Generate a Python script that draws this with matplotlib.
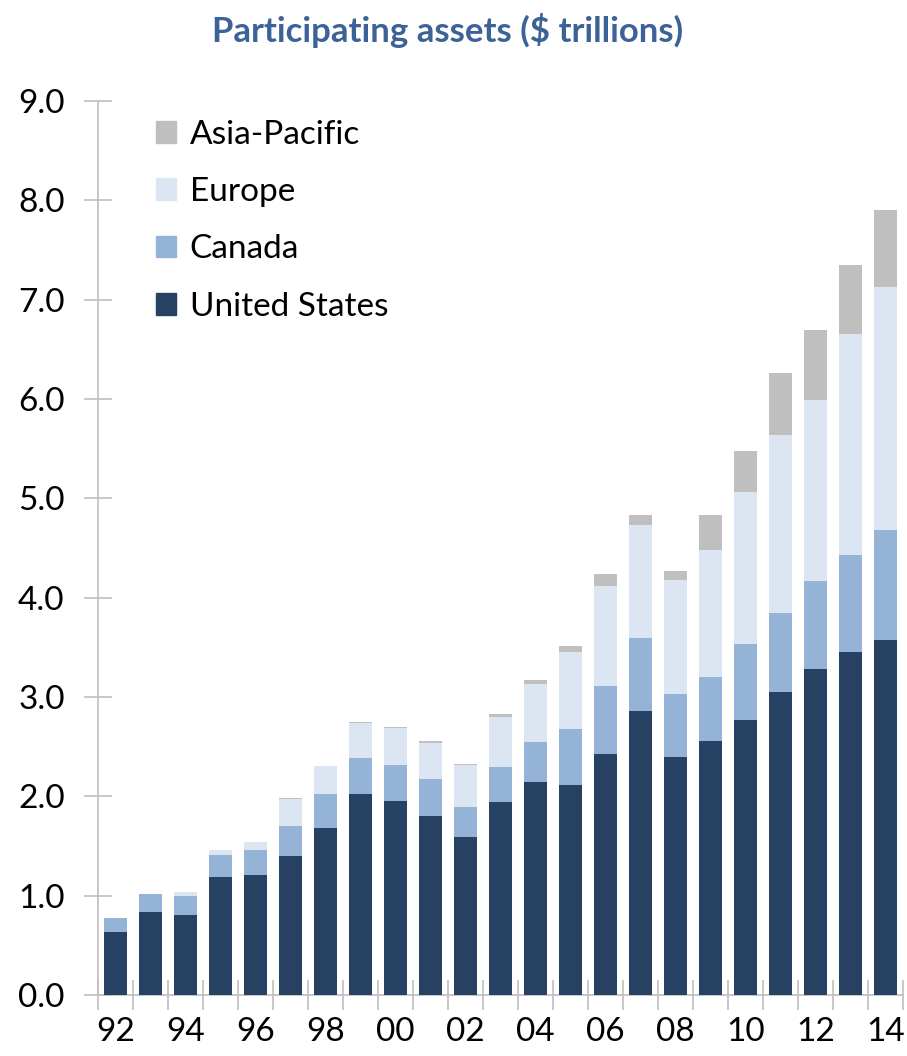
import matplotlib
matplotlib.use("Agg")
import matplotlib.pyplot as plt
import numpy as np
from matplotlib.patches import Patch

# ── data ($ trillions) ───────────────────────────────────────────────────
years = ["92", "93", "94", "95", "96", "97", "98", "99", "00", "01", "02", "03",
         "04", "05", "06", "07", "08", "09", "10", "11", "12", "13", "14"]
united_states = [0.63, 0.84, 0.81, 1.19, 1.21, 1.40, 1.68, 2.02, 1.95, 1.80, 1.59, 1.94,
                 2.14, 2.11, 2.43, 2.86, 2.40, 2.56, 2.77, 3.05, 3.28, 3.45, 3.57]
canada = [0.14, 0.18, 0.19, 0.22, 0.25, 0.30, 0.34, 0.37, 0.37, 0.37, 0.30, 0.35,
          0.41, 0.57, 0.68, 0.73, 0.63, 0.64, 0.76, 0.80, 0.89, 0.98, 1.11]
europe = [0.00, 0.00, 0.04, 0.05, 0.08, 0.27, 0.28, 0.35, 0.37, 0.37, 0.43, 0.51,
          0.58, 0.77, 1.01, 1.14, 1.15, 1.28, 1.53, 1.79, 1.82, 2.22, 2.45]
asia_pacific = [0.00, 0.00, 0.00, 0.00, 0.00, 0.01, 0.01, 0.01, 0.01, 0.02, 0.01, 0.03,
                0.04, 0.06, 0.12, 0.10, 0.09, 0.35, 0.42, 0.62, 0.70, 0.70, 0.77]
yticks = [0.0, 1.0, 2.0, 3.0, 4.0, 5.0, 6.0, 7.0, 8.0, 9.0]

# ── style ────────────────────────────────────────────────────────────────
plt.rcParams["font.family"] = ["Lato", "DejaVu Sans"]

C_US = "#264161"
C_CA = "#95B3D7"
C_EU = "#DCE6F2"
C_AP = "#BFBFBF"
AXIS = "#BFBFBF"
TITLE = "#3C6298"

fig = plt.figure(figsize=(9.07, 10.56), dpi=100)
ax = fig.add_axes([0.108, 0.0578, 0.8876, 0.8466])

x = np.arange(len(years))
us = np.array(united_states)
ca = np.array(canada)
eu = np.array(europe)
ap = np.array(asia_pacific)

w = 0.66
ax.bar(x, us, w, color=C_US, zorder=3)
ax.bar(x, ca, w, bottom=us, color=C_CA, zorder=3)
ax.bar(x, eu, w, bottom=us + ca, color=C_EU, zorder=3)
ax.bar(x, ap, w, bottom=us + ca + eu, color=C_AP, zorder=3)

ax.set_xlim(-0.5, len(years) - 0.5)
ax.set_ylim(0, 9.0)

ax.set_yticks(yticks)
ax.set_yticklabels([f"{v:.1f}" for v in yticks])

# labels every other year, tick marks at category boundaries
ax.set_xticks(x[::2])
ax.set_xticklabels(years[::2])
ax.set_xticks(np.arange(-0.5, len(years), 1.0), minor=True)
ax.tick_params(axis="x", which="major", length=0, pad=16, labelsize=24)
ax.tick_params(axis="x", which="minor", length=22, direction="inout",
               color=AXIS, width=1.2)
ax.tick_params(axis="y", which="major", length=20, direction="inout",
               color=AXIS, width=1.2, pad=14, labelsize=24)

for side in ("top", "right"):
    ax.spines[side].set_visible(False)
for side in ("left", "bottom"):
    ax.spines[side].set_color(AXIS)
    ax.spines[side].set_linewidth(1.2)

fig.text(0.494, 0.971, "Participating assets ($ trillions)", ha="center", va="center",
         fontsize=25, fontweight="bold", color=TITLE)

handles = [Patch(color=C_AP, label="Asia-Pacific"),
           Patch(color=C_EU, label="Europe"),
           Patch(color=C_CA, label="Canada"),
           Patch(color=C_US, label="United States")]
ax.legend(handles=handles, loc="upper left", bbox_to_anchor=(0.055, 0.994),
          frameon=False, fontsize=24, handlelength=0.62, handleheight=0.62,
          handletextpad=0.4, labelspacing=0.82, borderaxespad=0)

fig.savefig("out.png", dpi=100)
